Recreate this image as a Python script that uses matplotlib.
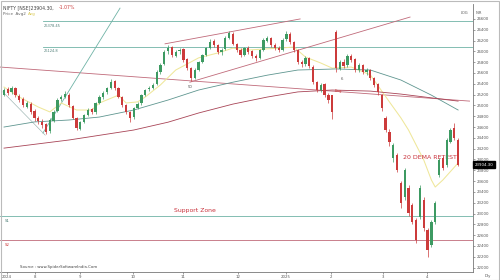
import numpy as np
import matplotlib
matplotlib.use("Agg")
from matplotlib import pyplot as plt

# daily candles
opens = [25200, 25300, 25240, 25330, 25180, 25120, 24980, 25030, 24900, 24760,
         24700, 24650, 24520, 24720, 24900, 25120, 25160, 25190, 24990, 24760,
         24570, 24700, 24830, 24930, 24870, 25050, 25150, 25240, 25330, 25450,
         25330, 25160, 25000, 24870, 24780, 24960, 25040, 25200, 25300, 25330,
         25400, 25610, 25760, 26000, 26080, 25920, 26000, 26040, 25850, 25700,
         25500, 25650, 25800, 25940, 26070, 26190, 26110, 25980, 26040, 26250,
         26330, 26140, 26030, 25940, 26070, 26000, 25920, 25880, 26030, 26200,
         26250, 26110, 26070, 26030, 26220, 26330, 26170, 26020, 25800, 25760,
         25880, 25720, 25440, 25280, 25390, 25200, 25190, 26360, 25680, 25810,
         25740, 25920, 25850, 25650, 25750, 25610, 25660, 25500, 25390, 25190,
         24770, 24510, 24025, 24080, 23565, 23305, 23470, 23155, 22880, 22935,
         23250, 22695, 22415, 22845, 23710, 24025, 23895, 24325, 24580, 24360]
closes = [25285, 25230, 25320, 25190, 25100, 25010, 25045, 24880, 24765, 24710,
          24640, 24510, 24730, 24880, 25100, 25155, 25210, 25005, 24765, 24580,
          24695, 24820, 24915, 24880, 25045, 25155, 25230, 25320, 25435, 25320,
          25155, 25005, 24880, 24765, 24950, 25025, 25190, 25285, 25320, 25380,
          25620, 25750, 25990, 26060, 25930, 25990, 26025, 25840, 25690, 25505,
          25655, 25805, 25930, 26060, 26175, 26115, 25990, 26025, 26245, 26340,
          26135, 26025, 25930, 26060, 25990, 25915, 25875, 26025, 26210, 26245,
          26115, 26060, 26025, 26210, 26320, 26175, 26025, 25805, 25765, 25875,
          25730, 25435, 25285, 25380, 25190, 25100, 24880, 25690, 25805, 25730,
          25915, 25840, 25655, 25745, 25620, 25655, 25505, 25380, 25250, 24950,
          24545, 24325, 24265, 23805, 23195, 23805, 23010, 22845, 22510, 23470,
          22730, 22325, 22845, 23195, 23990, 23840, 24360, 24545, 24395, 23904.3]
highs = [25330, 25340, 25360, 25350, 25210, 25150, 25090, 25060, 24930, 24800,
         24740, 24680, 24760, 24910, 25130, 25200, 25260, 25230, 25010, 24790,
         24720, 24850, 24950, 24960, 25070, 25190, 25260, 25350, 25480, 25470,
         25350, 25180, 25030, 24900, 24980, 25060, 25220, 25310, 25360, 25420,
         25660, 25790, 26020, 26110, 26100, 26030, 26070, 26060, 25870, 25720,
         25690, 25830, 25960, 26090, 26220, 26230, 26130, 26070, 26280, 26380,
         26350, 26160, 26060, 26090, 26100, 26030, 25960, 26050, 26240, 26290,
         26270, 26150, 26100, 26240, 26370, 26350, 26190, 26040, 25840, 25910,
         25900, 25740, 25460, 25420, 25410, 25230, 25200, 26400, 25840, 25850,
         25950, 25950, 25870, 25780, 25770, 25700, 25680, 25530, 25410, 25220,
         24800, 24560, 24300, 24120, 23600, 23850, 23520, 23200, 22920, 23520,
         23300, 22740, 22880, 23230, 24030, 24060, 24400, 24590, 24680, 24400]
lows = [25170, 25200, 25220, 25160, 25060, 24980, 24950, 24850, 24720, 24660,
        24590, 24470, 24490, 24700, 24880, 25080, 25130, 24980, 24740, 24550,
        24540, 24670, 24800, 24840, 24850, 25020, 25120, 25210, 25300, 25290,
        25130, 24970, 24850, 24700, 24750, 24930, 25010, 25170, 25260, 25300,
        25380, 25590, 25740, 25960, 25900, 25890, 25960, 25810, 25650, 25460,
        25480, 25630, 25780, 25910, 26050, 26080, 25950, 25940, 26020, 26220,
        26110, 25990, 25890, 25910, 25950, 25880, 25830, 25860, 26010, 26170,
        26090, 26020, 25980, 26000, 26190, 26140, 25990, 25770, 25720, 25730,
        25690, 25400, 25240, 25250, 25150, 25050, 24740, 25620, 25650, 25700,
        25720, 25800, 25620, 25620, 25580, 25570, 25470, 25340, 25200, 24900,
        24500, 24250, 23950, 23760, 23100, 23250, 22950, 22800, 22450, 22900,
        22680, 22190, 22380, 22800, 23680, 23800, 23860, 24300, 24360, 23880]

# moving averages, sampled at candle numbers
ema20_x = [0, 4, 9, 12, 15, 19, 23, 25, 30, 32, 35, 37, 41, 45, 51, 56, 60, 64,
           72, 76, 79, 83, 86, 91, 96, 101, 104, 106, 110, 112, 113, 115, 119]
ema20_y = [25340, 25155, 24970, 24880, 25045, 24915, 24915, 25045, 25190, 25045,
           25065, 25155, 25380, 25655, 25880, 25970, 26060, 26025, 26060, 26080,
           25895, 25785, 25690, 25710, 25565, 25065, 24770, 24545, 23990, 23620,
           23490, 23620, 23935]
ema50_x = [0, 8, 17, 25, 34, 43, 51, 60, 69, 77, 87, 96, 104, 112, 119]
ema50_y = [24600, 24695, 24730, 24785, 24915, 25100, 25285, 25430, 25560, 25655,
           25675, 25655, 25470, 25190, 24915]
ema200_x = [0, 17, 34, 43, 51, 60, 69, 77, 86, 96, 104, 112, 119]
ema200_y = [24210, 24360, 24545, 24690, 24860, 25025, 25155, 25250, 25285, 25265,
            25210, 25140, 25080]

# drawn levels / trend lines
res_levels = [26560, 26080]
res_labels = ["26378.45", "26124.8"]
s1_level = 22955
s2_level = 22510
down_line = ([-1, 122], [25710, 25080])
fan_line = ([10.2, 30.4], [24490, 26800])
early_line = ([-0.3, 10.8], [25250, 24450])
chan_upper = ([42.2, 77.6], [26140, 26600])
chan_lower = ([48.7, 106.4], [25430, 26635])

month_pos = [0.8, 8.1, 19.9, 33.8, 46.9, 61.3, 73.9, 85.7, 99.3, 110.9]
month_lab = ["2024", "8", "9", "10", "11", "12", "2025", "2", "3", "4"]

up_c = "#3d9a62"
dn_c = "#cc3b3b"
teal = "#6fb3a6"
tl_red = "#c06a7a"

fig = plt.figure(figsize=(5, 2.8), dpi=100)
ax = fig.add_axes([0, 0.0286, 0.946, 0.957])

x = np.arange(len(closes))
o = np.array(opens)
c = np.array(closes)
col = np.where(c >= o, up_c, dn_c)
ax.vlines(x, lows, highs, colors=col, lw=0.5, zorder=3)
ax.bar(x, np.abs(c - o), bottom=np.minimum(o, c), width=0.6, color=col,
       lw=0, zorder=4)

ax.plot(ema20_x, ema20_y, color="#efe79a", lw=0.75, zorder=2)
ax.plot(ema50_x, ema50_y, color="#5f9690", lw=0.6, zorder=2)
ax.plot(ema200_x, ema200_y, color="#a84456", lw=0.6, zorder=2)

for lv, lb in zip(res_levels, res_labels):
    ax.plot([10.2, 123], [lv, lv], color=teal, lw=0.6, zorder=1)
    ax.text(10.5, lv - 45, lb, fontsize=2.6, color="#4f7f78", va="top")
ax.axhline(s1_level, color=teal, lw=0.6, zorder=1)
ax.axhline(s2_level, color=tl_red, lw=0.6, zorder=1)
ax.text(0.2, s1_level - 60, "S1", fontsize=2.8, color="#4f7f78", va="top")
ax.text(0.2, s2_level - 60, "S2", fontsize=2.8, color=dn_c, va="top")
ax.text(50, 23050, "Support Zone", fontsize=4.4, color="#c8303a",
        ha="center", va="center")

ax.plot(*down_line, color=tl_red, lw=0.6, zorder=1)
ax.plot(*fan_line, color=teal, lw=0.6, zorder=1)
ax.plot(*early_line, color="#9ab3b0", lw=0.45, zorder=1)
ax.plot(*chan_upper, color=tl_red, lw=0.6, zorder=1)
ax.plot(*chan_lower, color=tl_red, lw=0.6, zorder=1)

ax.text(48.7, 25380, "50", fontsize=2.8, color="#555555", ha="center", va="top")
ax.text(88.5, 25520, "6", fontsize=2.8, color="#555555", ha="center", va="top")
ax.text(87.5, 25300, "Eng", fontsize=2.8, color=dn_c, ha="center", va="top")
ax.text(111.5, 24040, "20 DEMA RETEST", fontsize=4.5, color="#c8303a",
        ha="center", va="center")

ax.set_xlim(-1.05, 122.9)
ax.set_ylim(21918, 26876)
ax.set_yticks(np.arange(22000, 26601, 200))
ax.yaxis.tick_right()
ax.tick_params(axis="y", labelsize=2.8, colors="#555555", length=1.5,
               width=0.4, pad=1)
ax.set_xticks(month_pos)
ax.set_xticklabels(month_lab)
ax.tick_params(axis="x", labelsize=2.8, colors="#555555", length=1.5,
               width=0.4, pad=0.5)
for s in ["left", "top"]:
    ax.spines[s].set_visible(False)
for s in ["right", "bottom"]:
    ax.spines[s].set_color("#777777")
    ax.spines[s].set_linewidth(0.6)

# last price tag
ax.text(1.003, c[-1], "%.2f" % c[-1], transform=ax.get_yaxis_transform(),
        fontsize=2.8, color="white", va="center", ha="left",
        bbox=dict(boxstyle="square,pad=0.35", fc="black", ec="black"))

fig.text(0.006, 0.972, "NIFTY [NSE]23904.30,", fontsize=3.3, color="#444444",
         va="center")
fig.text(0.118, 0.972, "-1.07%", fontsize=3.3, color=dn_c, va="center")
fig.text(0.006, 0.95, "Price  Avg2", fontsize=3, color="#666666", va="center")
fig.text(0.056, 0.95, "Avg", fontsize=3, color="#d8c850", va="center")
fig.text(0.928, 0.955, "LOG", fontsize=2.6, color="#555555", va="center",
         ha="center")
fig.text(0.958, 0.955, "INR", fontsize=2.6, color="#555555", va="center",
         ha="center")
fig.text(0.04, 0.045, "Source : www.SpiderSoftwareIndia.Com", fontsize=2.8,
         color="#444444", va="center")
fig.text(0.975, 0.013, "Dly", fontsize=2.8, color="#555555", va="center",
         ha="center")

fig.patches.append(plt.Rectangle((0.001, 0.001), 0.996, 0.994,
                                 transform=fig.transFigure, fill=False,
                                 ec="#bbbbbb", lw=0.8))
fig.savefig("out.png", dpi=100)
